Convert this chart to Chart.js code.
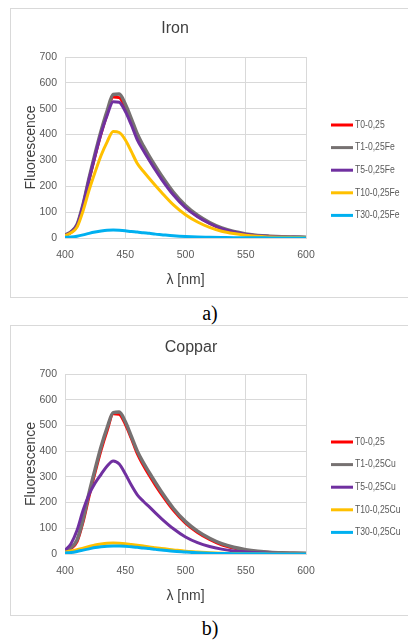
<!DOCTYPE html>
<html>
<head>
<meta charset="utf-8">
<script src="https://cdn.jsdelivr.net/npm/chart.js@4.4.1/dist/chart.umd.min.js"></script>
<style>
body{margin:0;width:408px;height:640px;background:#fff;position:relative;overflow:hidden;font-family:"Liberation Sans",Arial,sans-serif}
.box{position:absolute;left:10px;width:400px;border:1px solid #d9d9d9;background:#fff}
#box1{top:8px;height:288px}
#box2{top:325px;height:289px}
.box canvas{display:block}
.cap{position:absolute;left:0;width:420px;text-align:center;font-family:"Liberation Serif","Times New Roman",serif;font-size:20px;line-height:20px;color:#000}
</style>
</head>
<body>
<div class="box" id="box1"><canvas id="ironChart" width="397" height="288"></canvas></div>
<div class="cap" style="top:303px">a)</div>
<div class="box" id="box2"><canvas id="copperChart" width="397" height="289"></canvas></div>
<div class="cap" style="top:618px">b)</div>
<script>
// wavelengths (nm)
const wavelengths = [400,405,410,415,420,425,430,435,440,445,450,455,460,465,470,475,480,490,500,510,520,530,540,550,560,570,580,590,600];

const seriesColors = ['#ff0000', '#767171', '#7030a0', '#ffc000', '#00b0f0'];

// Iron
const ironNames = ['T0-0,25', 'T1-0,25Fe', 'T5-0,25Fe', 'T10-0,25Fe', 'T30-0,25Fe'];
const ironT0  = [10,22,48,125,225,318,405,480,545,543,505,450,390,345,305,268,233,170,120,84,57,36,23,14,9,6,4,3,2];
const ironT1  = [11,24,52,130,232,327,415,492,555,557,518,462,402,356,316,278,242,177,126,88,60,39,25,16,10,7,5,4,3];
const ironT5  = [10,23,50,128,228,320,405,475,527,525,490,438,380,338,300,263,228,166,117,82,56,36,23,14,9,6,4,3,2];
const ironT10 = [9,20,42,105,185,255,320,372,412,408,380,335,288,258,230,203,177,128,90,62,41,26,17,11,7,4,3,2,1];
const ironT30 = [3,4,7,12,18,23,27,30,31,30,28,25,23,20,18,15,13,9,6,4,3,2,1,1,1,0,0,0,0];

// Coppar
const copperNames = ['T0-0,25', 'T1-0,25Cu', 'T5-0,25Cu', 'T10-0,25Cu', 'T30-0,25Cu'];
const copperT0  = [10,22,48,125,225,318,405,480,545,543,505,450,390,345,305,268,233,170,120,84,57,36,23,14,9,6,4,3,2];
const copperT1  = [12,25,55,135,238,330,418,492,550,552,515,458,400,355,316,278,242,177,126,89,61,40,26,17,11,7,5,4,3];
const copperT5  = [14,40,92,170,232,276,310,342,362,350,312,268,230,205,183,160,138,98,66,44,29,19,12,8,5,3,2,1,1];
const copperT10 = [8,12,17,23,29,35,39,42,43,42,40,37,34,31,27,24,21,16,11,8,5,3,2,1,1,0,0,0,0];
const copperT30 = [4,6,10,15,20,25,28,30,31,31,30,28,26,23,21,18,16,11,8,5,3,2,1,1,1,0,0,0,0];

const yTicks = [0, 100, 200, 300, 400, 500, 600, 700];
const xTicks = [400, 450, 500, 550, 600];

// legend drawn at the right like in the excel picture
const sideLegend = {
    id: 'sideLegend',
    afterDraw(chart, args, opts) {
        const ctx = chart.ctx;
        chart.data.datasets.forEach((ds, i) => {
            const y = opts.y + i * opts.step;
            ctx.save();
            ctx.strokeStyle = ds.borderColor;
            ctx.lineWidth = 3;
            ctx.beginPath();
            ctx.moveTo(opts.x, y);
            ctx.lineTo(opts.x + 22, y);
            ctx.stroke();
            // narrow text (calibri look)
            ctx.translate(opts.x + 24, y);
            ctx.scale(0.82, 1);
            ctx.font = opts.font;
            ctx.textBaseline = 'middle';
            ctx.textAlign = 'left';
            ctx.fillStyle = opts.color;
            ctx.fillText(ds.label, 0, 0);
            ctx.restore();
        });
    }
};

const boxTitle = {
    id: 'boxTitle',
    afterDraw(chart, args, opts) {
        const ctx = chart.ctx;
        ctx.save();
        ctx.font = opts.font;
        ctx.fillStyle = opts.color;
        ctx.textAlign = 'center';
        ctx.textBaseline = 'middle';
        ctx.fillText(opts.text, opts.x, opts.y);
        ctx.restore();
    }
};

function makeChart(id, title, titleX, titleY, names, values, padBottom) {
    const datasets = values.map((vals, i) => ({
        label: names[i],
        data: wavelengths.map((w, k) => ({x: w, y: vals[k]})),
        borderColor: seriesColors[i],
        backgroundColor: seriesColors[i],
        borderWidth: i == 1 ? 3.5 : 3,
        pointRadius: 0,
        tension: 0.4,
        cubicInterpolationMode: 'monotone',
        order: 5 - i,
        fill: false
    }));

    return new Chart(document.getElementById(id), {
        type: 'line',
        data: {datasets: datasets},
        plugins: [sideLegend, boxTitle],
        options: {
            responsive: false,
            animation: false,
            events: [],
            layout: {padding: {left: 12, top: 48, right: 102, bottom: padBottom}},
            plugins: {
                legend: {display: false},
                title: {display: false},
                tooltip: {enabled: false},
                boxTitle: {text: title, x: titleX, y: titleY, font: '16px "Liberation Sans", Arial, sans-serif', color: '#404040'},
                sideLegend: {x: 320, y: 116, step: 22.6, font: '10.5px "Liberation Sans", Arial, sans-serif', color: '#595959'}
            },
            scales: {
                x: {
                    type: 'linear',
                    min: 400,
                    max: 600,
                    afterFit: s => { s.height = 51; },
                    afterBuildTicks: s => { s.ticks = xTicks.map(v => ({value: v})); },
                    grid: {color: '#d9d9d9', drawTicks: false},
                    border: {color: '#d9d9d9'},
                    ticks: {padding: 11, color: '#595959', font: {family: '"Liberation Sans", Arial, sans-serif', size: 10.5}},
                    title: {display: true, text: 'λ [nm]', color: '#404040', padding: 0, font: {family: '"Liberation Sans", Arial, sans-serif', size: 14}}
                },
                y: {
                    min: 0,
                    max: 700,
                    afterFit: s => { s.width = 42; },
                    afterBuildTicks: s => { s.ticks = yTicks.map(v => ({value: v})); },
                    grid: {color: '#d9d9d9', drawTicks: false},
                    border: {display: false},
                    ticks: {padding: 8, color: '#595959', font: {family: '"Liberation Sans", Arial, sans-serif', size: 10.5}},
                    title: {display: true, text: 'Fluorescence', color: '#404040', padding: 0, font: {family: '"Liberation Sans", Arial, sans-serif', size: 14}}
                }
            }
        }
    });
}

makeChart('ironChart', 'Iron', 164, 20, ironNames, [ironT0, ironT1, ironT5, ironT10, ironT30], 8);
makeChart('copperChart', 'Coppar', 180, 22, copperNames, [copperT0, copperT1, copperT5, copperT10, copperT30], 10);
</script>
</body>
</html>
